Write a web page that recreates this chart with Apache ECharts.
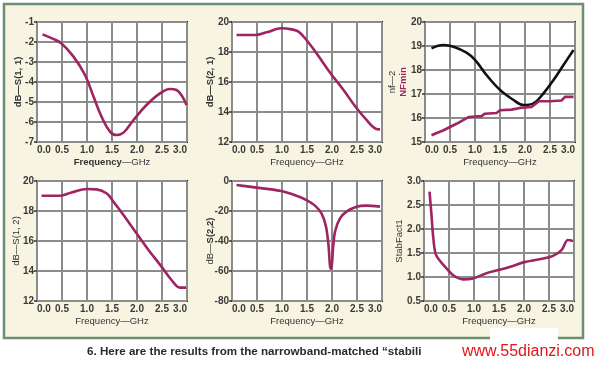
<!DOCTYPE html>
<html><head><meta charset="utf-8">
<script src="https://cdn.jsdelivr.net/npm/echarts@6/dist/echarts.min.js"></script>
<style>html,body{margin:0;padding:0;background:#fff}#c{width:600px;height:365px}</style>
</head><body><div id="c"></div>
<script>
// ---- data ----
const s11Freq = [0.11,0.3,0.49,0.73,0.96,1.13,1.29,1.46,1.59,1.73,1.93,2.19,2.46,2.66,2.79,2.9,2.99];
const s11Val  = [-1.62,-1.82,-2.07,-2.73,-3.65,-4.73,-5.73,-6.48,-6.65,-6.53,-5.9,-5.15,-4.57,-4.35,-4.4,-4.7,-5.15];

const s21Freq = [0.09,0.46,0.69,0.99,1.19,1.33,1.49,1.69,1.97,2.23,2.47,2.69,2.86,2.96];
const s21Val  = [19.13,19.13,19.31,19.58,19.51,19.36,18.8,17.91,16.58,15.47,14.35,13.47,12.91,12.84];

const nf2Freq = [0.13,0.37,0.57,0.83,1.0,1.23,1.5,1.77,1.97,2.17,2.37,2.57,2.77,2.97];
const nf2Val  = [18.9,19.04,18.97,18.72,18.42,17.79,17.17,16.75,16.54,16.61,17.03,17.58,18.21,18.83];

const nfminFreq = [0.13,0.37,0.63,0.87,1.13,1.2,1.43,1.5,1.73,1.9,2.13,2.28,2.5,2.73,2.8,2.97];
const nfminVal  = [15.28,15.49,15.76,16.04,16.08,16.18,16.21,16.32,16.35,16.42,16.46,16.7,16.7,16.73,16.88,16.88];

const s12Freq = [0.09,0.46,0.69,1.0,1.19,1.39,1.53,1.73,1.99,2.23,2.49,2.69,2.86,2.98];
const s12Val  = [19.02,19.02,19.24,19.47,19.44,19.18,18.62,17.73,16.51,15.4,14.29,13.4,12.89,12.89];

const s22Freq = [0.09,0.49,0.99,1.29,1.49,1.66,1.79,1.88,1.93,1.97,1.99,2.02,2.06,2.16,2.29,2.49,2.69,2.96];
const s22Val  = [-2.7,-4.4,-6.7,-9.8,-12.7,-16.4,-21.6,-30.4,-42.7,-58.5,-58.5,-45,-33.8,-24.9,-20.4,-17.1,-16.4,-17.1];

const stabFreq = [0.11,0.15,0.18,0.23,0.31,0.45,0.58,0.78,0.98,1.25,1.51,1.78,2.01,2.31,2.58,2.75,2.88,2.98];
const stabVal  = [2.78,2.29,1.88,1.49,1.35,1.18,1.04,0.95,0.97,1.08,1.15,1.23,1.31,1.37,1.44,1.56,1.77,1.75];

const freqTicks = {min:0, max:3, interval:0.5};
const yRanges = [
  {min:-7, max:-1, interval:1},
  {min:12, max:20, interval:2},
  {min:15, max:20, interval:1},
  {min:12, max:20, interval:2},
  {min:-80, max:0, interval:20},
  {min:0.5, max:3.0, interval:0.5}
];
const yNames = ['dB—S(1, 1)','dB—S(2, 1)','nf—2','dB—S(1, 2)','dB—{b|S(2,2)}','StabFact1'];
const xNames = ['{b|Frequency}—GHz','Frequency—GHz','Frequency—GHz','Frequency—GHz','Frequency—GHz','Frequency—GHz'];
const caption = '6. Here are the results from the narrowband-matched \u201cstabili';
const watermark = 'www.55dianzi.com';

// ---- layout ----
const zip = (a,b) => a.map((v,i)=>[v,b[i]]);
const FONT = 'Liberation Sans';
const MAG = '#9e2462';
const grids = [
  {left:37, top:22}, {left:232, top:22}, {left:425, top:22},
  {left:37, top:181}, {left:232, top:181}, {left:424, top:181}
].map(g => Object.assign(g, {width:150, height:120, show:true, backgroundColor:'#fff', borderColor:'#141414', borderWidth:2}));

const yGaps = [14, 17, 28, 16, 17, 20];
const yBold = [true, true, false, false, false, false];
const yDec = [0,0,0,0,0,1];

const xAxes = grids.map((g,i)=>({
  type:'value', gridIndex:i, min:freqTicks.min, max:freqTicks.max, interval:freqTicks.interval,
  axisLine:{show:false}, axisTick:{show:false},
  splitLine:{show:true, lineStyle:{color:'#8c8c8c', width:2}},
  axisLabel:{formatter:v=>v.toFixed(1), color:'#3a3a3a', fontFamily:FONT, fontSize:10, fontWeight:'bold', margin:3,
             alignMinLabel:'left', alignMaxLabel:'right'},
  name:xNames[i], nameLocation:'middle', nameGap:15, nameMoveOverlap:false,
  nameTextStyle:{color:'#333', fontFamily:FONT, fontSize:9.5, rich:{b:{fontWeight:'bold', fontFamily:FONT, fontSize:9.5, color:'#333'}}}
}));

const yAxes = grids.map((g,i)=>({
  type:'value', gridIndex:i, min:yRanges[i].min, max:yRanges[i].max, interval:yRanges[i].interval,
  axisLine:{show:false}, axisTick:{show:true, length:3, lineStyle:{color:'#333', width:1.5}},
  splitLine:{show:true, lineStyle:{color:'#8c8c8c', width:2}},
  axisLabel:{formatter:v=>yDec[i]?v.toFixed(1):String(v), color:'#3a3a3a', fontFamily:FONT, fontSize:10, fontWeight:'bold', margin:3},
  name:yNames[i], nameLocation:'middle', nameGap:yGaps[i], nameRotate:90, nameMoveOverlap:false,
  nameTextStyle:{color:'#333', fontFamily:FONT, fontSize:9.5, fontWeight: yBold[i]?'bold':'normal',
    rich:{b:{fontWeight:'bold', fontFamily:FONT, fontSize:9.5, color:'#333'}}}
}));
// extra axis for the NFmin name in the third plot
yAxes.push({
  type:'value', gridIndex:2, min:15, max:20, position:'left',
  axisLine:{show:false}, axisTick:{show:false}, axisLabel:{show:false}, splitLine:{show:false},
  name:'NFmin', nameLocation:'middle', nameGap:17, nameRotate:90, nameMoveOverlap:false,
  nameTextStyle:{color:MAG, fontFamily:FONT, fontSize:9.5, fontWeight:'bold'}
});

const line = (i, data, color, smooth) => ({
  type:'line', xAxisIndex:i, yAxisIndex:i, data, symbol:'none', smooth,
  lineStyle:{color, width:2.6}, silent:true, animation:false
});

const option = {
  animation:false,
  grid:grids, xAxis:xAxes, yAxis:yAxes,
  series:[
    line(0, zip(s11Freq,s11Val), MAG, 0.4),
    line(1, zip(s21Freq,s21Val), MAG, 0.4),
    line(2, zip(nf2Freq,nf2Val), '#111', 0.4),
    line(2, zip(nfminFreq,nfminVal), MAG, false),
    line(3, zip(s12Freq,s12Val), MAG, 0.4),
    line(4, zip(s22Freq,s22Val), MAG, 0.25),
    line(5, zip(stabFreq,stabVal), MAG, 0.35)
  ],
  graphic:[
    {type:'rect', z:-10, silent:true, shape:{x:4, y:4, width:579, height:334},
     style:{fill:'#f7f4e2', stroke:'#6e8f6f', lineWidth:2.5}},
    {type:'rect', z:10, silent:true, shape:{x:490, y:328, width:68, height:14}, style:{fill:'#fff'}},
    {type:'text', silent:true, x:87, y:352, style:{text:caption, fill:'#2a2a2a', font:'bold 11.6px "Liberation Sans"', verticalAlign:'middle'}},
    {type:'text', silent:true, x:462, y:352, style:{text:watermark, fill:'#e3141c', font:'16px "Liberation Sans"', verticalAlign:'middle'}}
  ]
};
echarts.init(document.getElementById('c'), null, {renderer:'canvas'}).setOption(option);
</script></body></html>
